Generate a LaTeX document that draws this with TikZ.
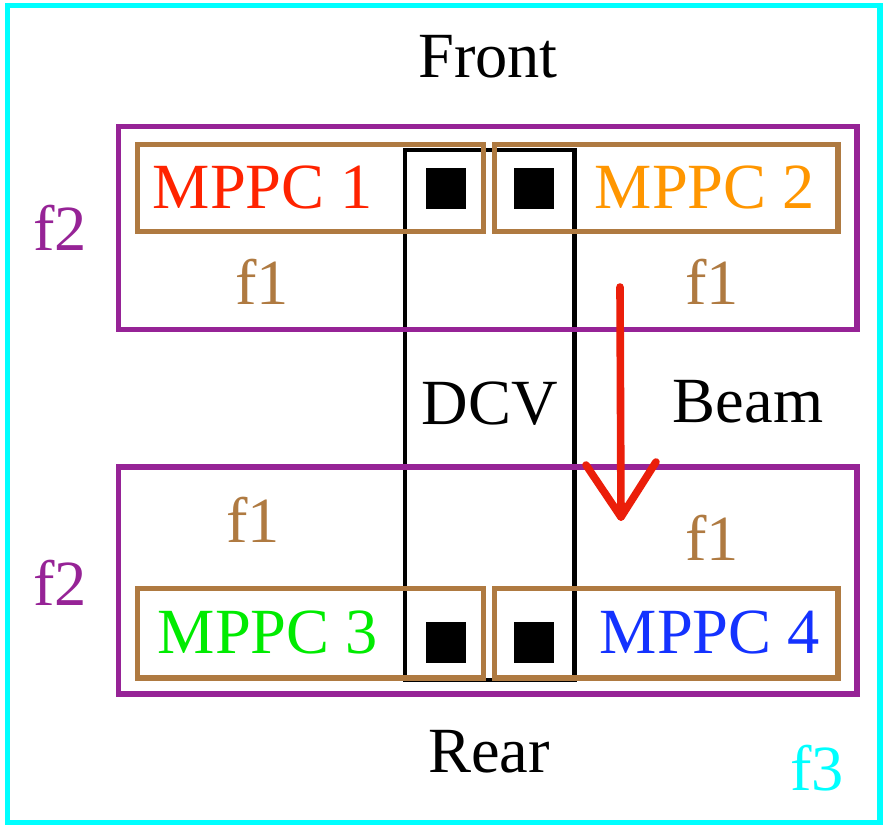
\documentclass[tikz,border=0pt]{standalone}
\usepackage{fontspec}
\setmainfont{Liberation Serif}
\usetikzlibrary{arrows.meta,calc,positioning}
\definecolor{frameC}{RGB}{0,255,255}
\definecolor{layerC}{RGB}{150,35,150}
\definecolor{fiberC}{RGB}{175,122,65}
\definecolor{mppcA}{RGB}{255,35,0}
\definecolor{mppcB}{RGB}{255,150,0}
\definecolor{mppcC}{RGB}{0,235,0}
\definecolor{mppcD}{RGB}{20,50,255}
\definecolor{beamC}{RGB}{235,30,10}
\tikzset{
  lbl/.style={font=\fontsize{55}{66}\selectfont,inner sep=0pt},
  layer/.style={draw=layerC,line width=4.3pt},
  fiber/.style={draw=fiberC,line width=4.3pt},
  pixel/.style={fill=black},
}

\begin{document}
\begin{tikzpicture}[x=0.03cm,y=-0.03cm,line join=miter]
\useasboundingbox (0,0) rectangle (886,826);
% --- f3 wrapping round everything
\draw[draw=frameC,line width=4.3pt] (7.5,5.5) rectangle (880,822.5);
% --- DCV
\draw[line width=3.6pt] (405,150) rectangle (574.5,680);
\fill[pixel] (426,168) rectangle (466,209); \fill[pixel] (514,168) rectangle (554,209);
\fill[pixel] (426,622) rectangle (466,663); \fill[pixel] (514,622) rectangle (554,663);
% --- f2 layers
\draw[layer] (118.5,126.5) rectangle (857,329.5);
\draw[layer] (118.5,467) rectangle (857,694);
% --- f1 around each MPPC
\draw[fiber] (137.5,144.5) rectangle (483.5,231.5); \draw[fiber] (494.5,144.5) rectangle (838,231.5);
\draw[fiber] (137.5,588.5) rectangle (483.5,678); \draw[fiber] (494.5,588.5) rectangle (838,678);
% --- labels
\node[lbl] (front) at (488,57) {Front};
\node[lbl] (rear) at (489,752) {Rear};
\node[lbl,text=mppcA] (m1) at (263,187) {MPPC 1};
\node[lbl,text=mppcB] (m2) at (705,187) {MPPC 2};
\node[lbl,text=mppcC] (m3) at (268,632) {MPPC 3};
\node[lbl,text=mppcD] (m4) at (710,632) {MPPC 4};
\node[lbl,text=fiberC] (f1a) at (262,282) {f1};
\node[lbl,text=fiberC] (f1b) at (712,282) {f1};
\node[lbl,text=fiberC] (f1c) at (253,520) {f1};
\node[lbl,text=fiberC] (f1d) at (712,538) {f1};
\node[lbl,text=layerC] (f2a) at (60,228) {f2};
\node[lbl,text=layerC] (f2b) at (60,583) {f2};
\node[lbl,text=frameC] (f3) at (817,768) {f3};
\node[lbl] (dcv) at (490,404) {DCV};
\node[lbl] (beam) at (748,402) {Beam};
% --- beam arrow
\coordinate (beamTop) at (620,287);
\coordinate (beamTip) at (621,517);
\coordinate (wingL) at (586,465);
\coordinate (wingR) at (656,462);
\draw[beamC,line width=6.5pt,line cap=round,line join=round] (beamTop) -- (beamTip);
\draw[beamC,line width=6.5pt,line cap=round,line join=round] (wingL) -- (beamTip) -- (wingR);
\end{tikzpicture}
\end{document}
